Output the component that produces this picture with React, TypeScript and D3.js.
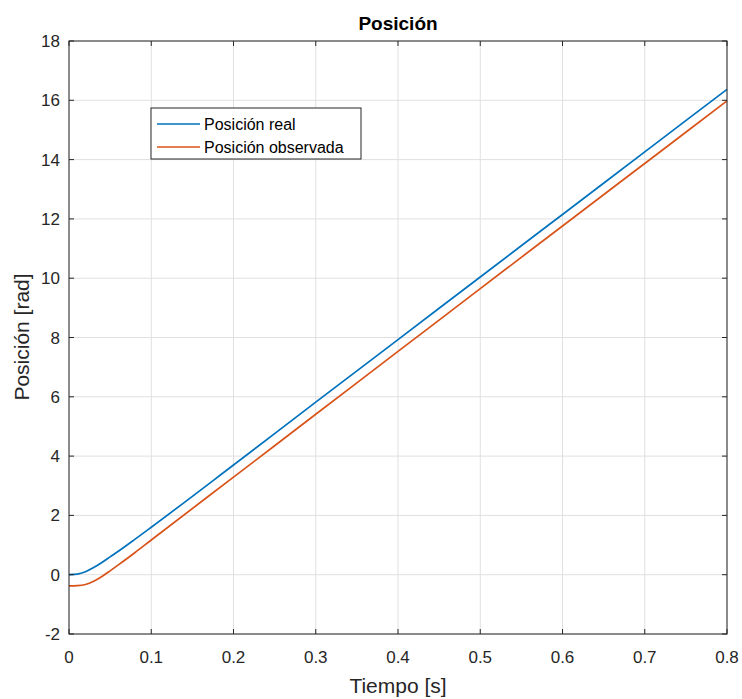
import React from "react";
import * as d3 from "d3";

const tiempo = [0, 0.01, 0.02, 0.03, 0.04, 0.05, 0.06, 0.08, 0.1, 0.2, 0.3, 0.4, 0.5, 0.6, 0.7, 0.8];
const posReal = [0, 0.02, 0.1, 0.24, 0.41, 0.6, 0.79, 1.19, 1.6, 3.7, 5.82, 7.93, 10.04, 12.15, 14.26, 16.37];
const posObservada = [-0.38, -0.37, -0.33, -0.22, -0.06, 0.13, 0.33, 0.74, 1.17, 3.29, 5.41, 7.53, 9.65, 11.76, 13.87, 15.98];
const xTicks = [0, 0.1, 0.2, 0.3, 0.4, 0.5, 0.6, 0.7, 0.8];
const yTicks = [-2, 0, 2, 4, 6, 8, 10, 12, 14, 16, 18];
const seriesNames = ["Posición real", "Posición observada"];
const seriesColors = ["#0072BD", "#D95319"];

export default function App() {
  const W = 742, H = 699;
  const L = 69, R = 727, T = 41, B = 634;
  const x = d3.scaleLinear().domain([0, 0.8]).range([L, R]);
  const y = d3.scaleLinear().domain([-2, 18]).range([B, T]);
  const line = d3
    .line<number>()
    .x((_, i) => x(tiempo[i]))
    .y((d) => y(d))
    .curve(d3.curveMonotoneX);
  const series = [posReal, posObservada];
  const font = "'Liberation Sans', Arial, sans-serif";
  const txt = "#262626";
  const grid = "#e0e0e0";
  const tk = 5;
  return (
    <svg width={W} height={H} style={{ position: "absolute", left: 0, top: 0, background: "#fff" }} fontFamily={font}>
      <rect x={0} y={0} width={W} height={H} fill="#fff" />
      <rect x={L} y={T} width={R - L} height={B - T} fill="#fff" />
      {xTicks.map((t) => (
        <line key={"gx" + t} x1={x(t)} x2={x(t)} y1={T} y2={B} stroke={grid} strokeWidth={1} />
      ))}
      {yTicks.map((t) => (
        <line key={"gy" + t} x1={L} x2={R} y1={y(t)} y2={y(t)} stroke={grid} strokeWidth={1} />
      ))}
      {series.map((s, i) => (
        <path key={i} d={line(s) || ""} fill="none" stroke={seriesColors[i]} strokeWidth={1.7} />
      ))}
      <rect x={L} y={T} width={R - L} height={B - T} fill="none" stroke={txt} strokeWidth={1} />
      {xTicks.map((t) => (
        <g key={"tx" + t}>
          <line x1={x(t)} x2={x(t)} y1={B} y2={B - tk} stroke={txt} />
          <line x1={x(t)} x2={x(t)} y1={T} y2={T + tk} stroke={txt} />
          <text x={x(t)} y={663} textAnchor="middle" fontSize={17} fill={txt}>
            {t === 0 ? "0" : String(t)}
          </text>
        </g>
      ))}
      {yTicks.map((t) => (
        <g key={"ty" + t}>
          <line x1={L} x2={L + tk} y1={y(t)} y2={y(t)} stroke={txt} />
          <line x1={R} x2={R - tk} y1={y(t)} y2={y(t)} stroke={txt} />
          <text x={60} y={y(t) + 6} textAnchor="end" fontSize={17} fill={txt}>
            {String(t)}
          </text>
        </g>
      ))}
      <text x={(L + R) / 2} y={30} textAnchor="middle" fontSize={19} fontWeight="bold" fill="#000">
        Posición
      </text>
      <text x={398} y={693} textAnchor="middle" fontSize={21} fill={txt}>
        Tiempo [s]
      </text>
      <text
        transform={`translate(29, 337) rotate(-90)`}
        textAnchor="middle"
        fontSize={21}
        fill={txt}
      >
        Posición [rad]
      </text>
      <g>
        <rect x={151} y={108} width={210} height={51} fill="#fff" stroke={txt} strokeWidth={1} />
        {seriesNames.map((n, i) => (
          <g key={n}>
            <line x1={157} x2={200} y1={124 + i * 23} y2={124 + i * 23} stroke={seriesColors[i]} strokeWidth={1.7} />
            <text x={204} y={129.5 + i * 23} fontSize={16} fill="#000">
              {n}
            </text>
          </g>
        ))}
      </g>
    </svg>
  );
}
